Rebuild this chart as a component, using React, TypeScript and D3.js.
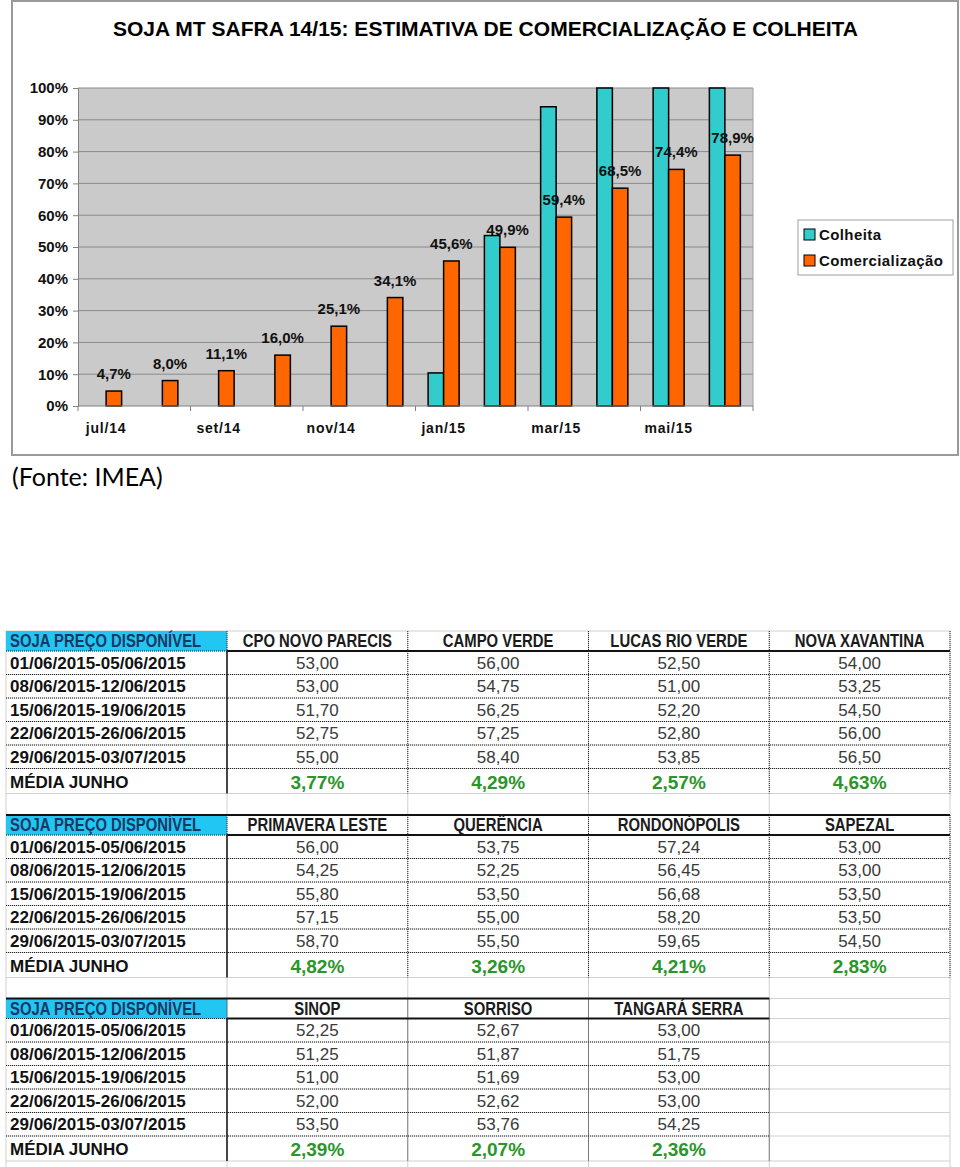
import React, { useEffect, useRef } from "react";
import * as d3 from "d3";

// chart data
const months = ["jul/14", "ago/14", "set/14", "out/14", "nov/14", "dez/14", "jan/15", "fev/15", "mar/15", "abr/15", "mai/15", "jun/15"];
const colheita = [0, 0, 0, 0, 0, 0, 10.4, 53.6, 94.1, 100, 100, 100];
const comercializacao = [4.7, 8.0, 11.1, 16.0, 25.1, 34.1, 45.6, 49.9, 59.4, 68.5, 74.4, 78.9];
const seriesNames = ["Colheita", "Comercialização"];
const yTicks = [0, 10, 20, 30, 40, 50, 60, 70, 80, 90, 100];

// price tables
const weeks = ["01/06/2015-05/06/2015", "08/06/2015-12/06/2015", "15/06/2015-19/06/2015", "22/06/2015-26/06/2015", "29/06/2015-03/07/2015"];

const cities1 = ["CPO NOVO PARECIS", "CAMPO VERDE", "LUCAS RIO VERDE", "NOVA XAVANTINA"];
const prices1 = [
  [53.0, 53.0, 51.7, 52.75, 55.0],
  [56.0, 54.75, 56.25, 57.25, 58.4],
  [52.5, 51.0, 52.2, 52.8, 53.85],
  [54.0, 53.25, 54.5, 56.0, 56.5],
];
const media1 = [3.77, 4.29, 2.57, 4.63];

const cities2 = ["PRIMAVERA LESTE", "QUERÊNCIA", "RONDONÓPOLIS", "SAPEZAL"];
const prices2 = [
  [56.0, 54.25, 55.8, 57.15, 58.7],
  [53.75, 52.25, 53.5, 55.0, 55.5],
  [57.24, 56.45, 56.68, 58.2, 59.65],
  [53.0, 53.0, 53.5, 53.5, 54.5],
];
const media2 = [4.82, 3.26, 4.21, 2.83];

const cities3 = ["SINOP", "SORRISO", "TANGARÁ SERRA"];
const prices3 = [
  [52.25, 51.25, 51.0, 52.0, 53.5],
  [52.67, 51.87, 51.69, 52.62, 53.76],
  [53.0, 51.75, 53.0, 53.0, 54.25],
];
const media3 = [2.39, 2.07, 2.36];

const FONT = "'Liberation Sans', Arial, sans-serif";
const CYAN = "#33CCCC";
const ORANGE = "#FF6600";

const comma = (v: number, d: number) => v.toFixed(d).replace(".", ",");

const Chart = () => {
  const yAxisRef = useRef<SVGGElement>(null);
  const left = 78, right = 753, top = 88, bottom = 406;

  const x = d3.scaleBand().domain(months).range([left, right]).padding(0);
  const inner = d3.scaleBand().domain(seriesNames).range([0, x.bandwidth()]).paddingInner(0).paddingOuter(0.815);
  const y = d3.scaleLinear().domain([0, 100]).range([bottom, top]);

  useEffect(() => {
    const g = d3.select(yAxisRef.current);
    g.call(
      d3.axisLeft(y).tickValues(yTicks).tickSize(5).tickPadding(5).tickFormat((d: any) => d + "%")
    );
    g.select(".domain").attr("stroke", "#808080");
    g.selectAll(".tick line").attr("stroke", "#808080");
    g.selectAll(".tick text")
      .attr("font-family", FONT)
      .attr("font-size", 15)
      .attr("font-weight", "bold")
      .attr("fill", "#111");
  }, []);

  const tickIdx = months.map((m, i) => i).filter((i) => i % 2 === 0);

  return (
    <g>
      <rect x={12} y={1} width={946} height={454} fill="#fff" stroke="#9a9a9a" strokeWidth={2} />
      <text x={113} y={36} fontFamily={FONT} fontWeight="bold" fontSize={21} textLength={745} lengthAdjust="spacingAndGlyphs" fill="#000">
        SOJA MT SAFRA 14/15: ESTIMATIVA DE COMERCIALIZAÇÃO E COLHEITA
      </text>

      <rect x={left} y={top} width={right - left} height={bottom - top} fill="#cacaca" />
      {yTicks.filter((t) => t > 0).map((t) => (
        <line key={t} x1={left} x2={right} y1={y(t)} y2={y(t)} stroke="#8a8a8a" strokeWidth={1} />
      ))}
      <line x1={right} x2={right} y1={top} y2={bottom} stroke="#a0a0a0" />

      {months.map((m, i) => (
        <g key={m}>
          {colheita[i] > 0 && (
            <rect
              x={x(m)! + inner("Colheita")!}
              y={y(colheita[i])}
              width={inner.bandwidth()}
              height={bottom - y(colheita[i])}
              fill={CYAN}
              stroke="#000"
              strokeWidth={1.5}
            />
          )}
          <rect
            x={x(m)! + inner("Comercialização")!}
            y={y(comercializacao[i])}
            width={inner.bandwidth()}
            height={bottom - y(comercializacao[i])}
            fill={ORANGE}
            stroke="#000"
            strokeWidth={1.5}
          />
        </g>
      ))}

      {months.map((m, i) => (
        <text
          key={"l" + m}
          x={x(m)! + inner("Comercialização")! + inner.bandwidth() / 2}
          y={y(comercializacao[i]) - 12}
          textAnchor="middle"
          fontFamily={FONT}
          fontSize={15}
          fontWeight="bold"
          fill="#111"
        >
          {comma(comercializacao[i], 1) + "%"}
        </text>
      ))}

      <g ref={yAxisRef} transform={`translate(${left},0)`} />
      <line x1={left} x2={right} y1={bottom} y2={bottom} stroke="#808080" />
      {tickIdx.map((i) => (
        <line key={"t" + i} x1={x(months[i])} x2={x(months[i])} y1={bottom} y2={bottom + 5} stroke="#808080" />
      ))}
      <line x1={right} x2={right} y1={bottom} y2={bottom + 5} stroke="#808080" />
      {tickIdx.map((i) => (
        <text
          key={"x" + i}
          x={x(months[i])! + x.bandwidth() / 2}
          y={433}
          textAnchor="middle"
          fontFamily={FONT}
          fontSize={14}
          fontWeight="bold"
          letterSpacing={0.8}
          fill="#111"
        >
          {months[i]}
        </text>
      ))}

      <rect x={798} y={220} width={155} height={55} fill="#fff" stroke="#a0a0a0" />
      {seriesNames.map((s, i) => (
        <g key={s} transform={`translate(804,${229 + i * 26})`}>
          <rect width={11} height={11} fill={i === 0 ? CYAN : ORANGE} stroke="#000" strokeWidth={1} />
          <text x={15} y={10.5} fontFamily={FONT} fontSize={15} fontWeight="bold" letterSpacing={0.4} fill="#111">
            {s}
          </text>
        </g>
      ))}
    </g>
  );
};

type TableProps = { top: number; cities: string[]; prices: number[][]; media: number[]; first: boolean };

const PriceTable = ({ top, cities, prices, media, first }: TableProps) => {
  const labelL = 6, labelR = 227, tableR = 950;
  const col = d3.scaleBand<number>().domain(d3.range(4)).range([labelR, tableR]);
  const headerH = 20, rowH = 23.5, mediaH = 25, emptyH = 21;
  const rowTop = (i: number) => top + headerH + rowH * i;
  const mediaTop = rowTop(weeks.length);
  const mediaBot = mediaTop + mediaH;
  const blockBot = mediaBot + emptyH;
  const endX = col(cities.length - 1)! + col.bandwidth();
  const colEdges = [labelL, labelR, ...d3.range(4).map((i) => col(i)! + col.bandwidth())];
  const rowEdges = [top, ...d3.range(weeks.length + 1).map(rowTop), mediaBot, blockBot];
  const dotted = { stroke: "#222", strokeWidth: 1, strokeDasharray: "1 1" };
  // narrow header lettering
  const hs = 0.85;

  return (
    <g>
      {/* sheet gridlines */}
      {colEdges.map((cx, i) => (
        <line key={"gv" + i} x1={cx} x2={cx} y1={top} y2={blockBot} stroke="#d0d0d0" />
      ))}
      {rowEdges.map((ry, i) => (
        <line key={"gh" + i} x1={labelL} x2={tableR} y1={ry} y2={ry} stroke="#d0d0d0" />
      ))}

      <rect x={labelL} y={top} width={labelR - labelL} height={headerH} fill="#22C6F2" />

      {/* borders */}
      {!first && <line x1={labelL} x2={endX} y1={top} y2={top} stroke="#111" strokeWidth={2} />}
      <line x1={labelL} x2={labelR} y1={top + headerH} y2={top + headerH} {...dotted} />
      <line x1={labelR} x2={endX} y1={top + headerH} y2={top + headerH} stroke="#111" strokeWidth={2} />
      {d3.range(1, weeks.length + 1).map((i) => (
        <line key={"rh" + i} x1={labelL} x2={endX} y1={rowTop(i)} y2={rowTop(i)} {...dotted} />
      ))}
      {[labelR, ...cities.map((c, i) => col(i)! + col.bandwidth())].map((cx, i) => (
        <line key={"dv" + i} x1={cx} x2={cx} y1={top} y2={i === 0 ? top + headerH : mediaBot} {...dotted} />
      ))}
      <line x1={labelR} x2={labelR} y1={top + headerH} y2={mediaBot} stroke="#111" strokeWidth={1.5} />

      {/* header */}
      <text
        transform={`translate(10,${top + 16}) scale(${hs},1)`}
        fontFamily={FONT}
        fontWeight="bold"
        fontSize={17.5}
        fill="#1c3764"
      >
        SOJA PREÇO DISPONÍVEL
      </text>
      {cities.map((c, i) => (
        <text
          key={c}
          transform={`translate(${col(i)! + col.bandwidth() / 2},${top + 16}) scale(${hs},1)`}
          textAnchor="middle"
          fontFamily={FONT}
          fontWeight="bold"
          fontSize={17.5}
          fill="#1a1a1a"
        >
          {c}
        </text>
      ))}

      {/* week rows */}
      {weeks.map((w, r) => (
        <g key={w}>
          <text x={10} y={rowTop(r) + 17.6} fontFamily={FONT} fontWeight="bold" fontSize={17} fill="#111">
            {w}
          </text>
          {cities.map((c, i) => (
            <text
              key={c}
              x={col(i)! + col.bandwidth() / 2}
              y={rowTop(r) + 17.6}
              textAnchor="middle"
              fontFamily={FONT}
              fontSize={17}
              fill="#3a3a3a"
            >
              {comma(prices[i][r], 2)}
            </text>
          ))}
        </g>
      ))}

      {/* monthly average */}
      <text x={10} y={mediaTop + 19} fontFamily={FONT} fontWeight="bold" fontSize={17} fill="#111">
        MÉDIA JUNHO
      </text>
      {media.map((m, i) => (
        <text
          key={"m" + i}
          x={col(i)! + col.bandwidth() / 2}
          y={mediaTop + 20}
          textAnchor="middle"
          fontFamily={FONT}
          fontWeight="bold"
          fontSize={19}
          fill="#2a962a"
        >
          {comma(m, 2) + "%"}
        </text>
      ))}
    </g>
  );
};

const App = () => {
  return (
    <div style={{ position: "absolute", left: 0, top: 0 }}>
      <svg width={960} height={1167} style={{ display: "block", background: "#fff" }}>
        <Chart />
        <text x={12} y={486} fontFamily="Lato, 'Open Sans', sans-serif" fontSize={25} fill="#000">
          (Fonte: IMEA)
        </text>
        <PriceTable top={631} cities={cities1} prices={prices1} media={media1} first={true} />
        <PriceTable top={815} cities={cities2} prices={prices2} media={media2} first={false} />
        <PriceTable top={998.5} cities={cities3} prices={prices3} media={media3} first={false} />
      </svg>
    </div>
  );
};

export default App;
